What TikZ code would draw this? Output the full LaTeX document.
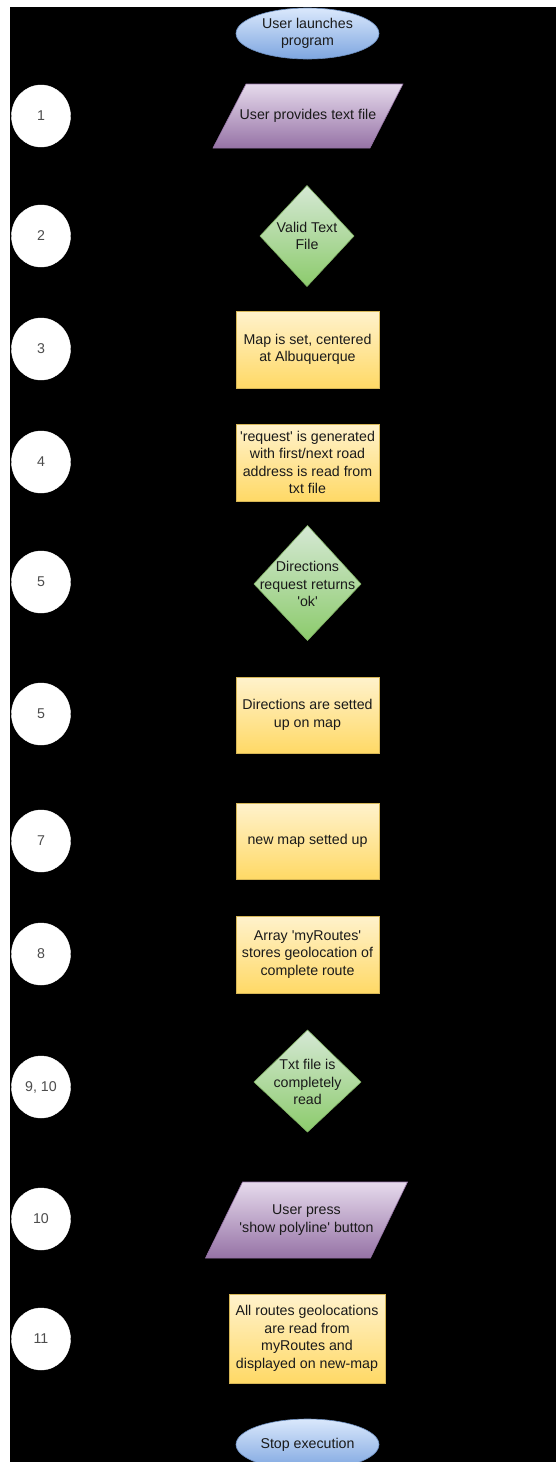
\documentclass[tikz,border=0pt]{standalone}
\usepackage{fontspec}
\setmainfont{Liberation Sans}
\usetikzlibrary{shapes.geometric,calc}
\pgfdeclarelayer{bg}
\pgfsetlayers{bg,main}

\definecolor{bluetop}{HTML}{DAE8FC}
\definecolor{bluebot}{HTML}{7EA6E0}
\definecolor{blueline}{HTML}{6C8EBF}
\definecolor{purptop}{HTML}{E6DAEC}
\definecolor{purpbot}{HTML}{9673A6}
\definecolor{purpline}{HTML}{9673A6}
\definecolor{greentop}{HTML}{D5E8D4}
\definecolor{greenbot}{HTML}{8CCB6C}
\definecolor{greenline}{HTML}{82B366}
\definecolor{yelltop}{HTML}{FFF2CC}
\definecolor{yellbot}{HTML}{FFD966}
\definecolor{yellline}{HTML}{D6B656}
\definecolor{txtc}{HTML}{1A1A1A}
\definecolor{numc}{HTML}{4D4D4D}

\newcommand{\sqt}{\textquotesingle}

\tikzset{
  every node/.style={font=\fontsize{14.2}{17.6}\selectfont, inner sep=0pt,
    align=center, text=txtc},
  startend/.style={ellipse, minimum width=143pt, minimum height=51pt,
    top color=bluetop, bottom color=bluebot, draw=blueline, line width=0.6pt},
  procbox/.style={rectangle, minimum width=143pt, minimum height=77pt,
    top color=yelltop, bottom color=yellbot, draw=yellline, line width=0.6pt},
  stepnum/.style={ellipse, minimum width=59pt, minimum height=62pt,
    fill=white, draw=white, text=numc},
  iotext/.style={rectangle},
  decisiontext/.style={rectangle},
  ioshape/.style={top color=purptop, bottom color=purpbot, draw=purpline, line width=0.6pt},
  decshape/.style={top color=greentop, bottom color=greenbot, draw=greenline, line width=0.6pt}
}

\begin{document}
\begin{tikzpicture}[x=1pt, y={(0pt,-1pt)}]
\useasboundingbox (0,0) rectangle (556,1462);

% flow chart, top to bottom
\node[startend] (start) at (307.5,33.5) {User launches\\program};
\node[iotext] (input) at (308,116) {User provides text file};
\node[decisiontext] (valid) at (307,236) {Valid Text\\File};
\node[procbox] (mapset) at (307.5,349.5) {Map is set, centered\\at Albuquerque};
\node[procbox] (request) at (307.5,462.5) {\sqt request\sqt\ is generated\\with first/next road\\address is read from\\txt file};
\node[decisiontext] (ok) at (307.5,584) {Directions\\request returns\\\sqt ok\sqt};
\node[procbox, minimum height=76pt] (dirs) at (307.5,715) {Directions are setted\\up on map};
\node[procbox, minimum height=76pt] (newmap) at (307.5,841) {new map setted up};
\node[procbox] (routes) at (307.5,954.5) {Array \sqt myRoutes\sqt\\stores geolocation of\\complete route};
\node[decisiontext] (done) at (307.5,1082) {Txt file is\\completely\\read};
\node[iotext] (press) at (306.5,1220) {User press\\\sqt show polyline\sqt\ button};
\node[procbox, minimum width=156pt, minimum height=89pt] (display) at (307,1338.5) {All routes geolocations\\are read from\\myRoutes and\\displayed on new-map};
\node[startend] (stop) at (307.5,1444.5) {Stop execution};

% step numbers in the left column
\node[stepnum] (n1) at (41,116) {1};
\node[stepnum] (n2) at (41,236) {2};
\node[stepnum] (n3) at (41,349) {3};
\node[stepnum] (n4) at (41,462) {4};
\node[stepnum] (n5) at (41,582) {5};
\node[stepnum] (n6) at (41,714) {5};
\node[stepnum] (n7) at (41,841) {7};
\node[stepnum] (n8) at (41,954) {8};
\node[stepnum] (n9) at (41,1087) {9, 10};
\node[stepnum] (n10) at (41,1219) {10};
\node[stepnum] (n11) at (41,1339) {11};

\begin{pgfonlayer}{bg}
  % page: white margin, black canvas
  \fill[white] (0,0) rectangle (556,1462);
  \fill[black] (10,7) rectangle (556,1462);
  % input/output parallelograms
  \shade[ioshape] ($(input.center)+(-62,-32)$) -- ($(input.center)+(95,-32)$)
    -- ($(input.center)+(62,32)$) -- ($(input.center)+(-95,32)$) -- cycle;
  \shade[ioshape] ($(press.center)+(-64,-38)$) -- ($(press.center)+(101,-38)$)
    -- ($(press.center)+(64,38)$) -- ($(press.center)+(-101,38)$) -- cycle;
  % decision diamonds
  \shade[decshape] ($(valid.center)+(0,-50.5)$) -- ($(valid.center)+(47,0)$)
    -- ($(valid.center)+(0,50.5)$) -- ($(valid.center)+(-47,0)$) -- cycle;
  \shade[decshape] ($(ok.center)+(0,-58.5)$) -- ($(ok.center)+(53.5,0)$)
    -- ($(ok.center)+(0,56.5)$) -- ($(ok.center)+(-53.5,0)$) -- cycle;
  \shade[decshape] ($(done.center)+(0,-52)$) -- ($(done.center)+(53.5,0)$)
    -- ($(done.center)+(0,50)$) -- ($(done.center)+(-53.5,0)$) -- cycle;
\end{pgfonlayer}
\end{tikzpicture}
\end{document}
